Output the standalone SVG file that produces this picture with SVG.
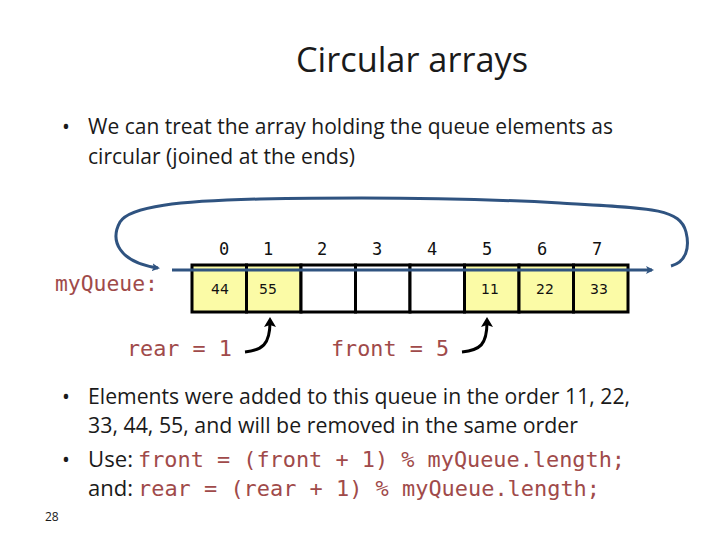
<svg xmlns="http://www.w3.org/2000/svg" width="720" height="540" viewBox="0 0 720 540">
<style>
.t{font-family:"Open Sans","Liberation Sans",sans-serif;fill:#1a1a1a}
.c{font-family:"DejaVu Sans Mono","Liberation Mono",monospace;fill:#a04a4a}
.idx{font-family:"DejaVu Sans Mono","Liberation Mono",monospace;font-size:17px;fill:#111;text-anchor:middle}
.v{font-family:"DejaVu Sans","Verdana",sans-serif;font-size:14px;fill:#111;text-anchor:middle}
.cell{stroke:#000;stroke-width:3;fill:#fff}
.full{fill:#fbfba6}
.blue{fill:none;stroke:#2f5380;stroke-width:3}
.blk{fill:none;stroke:#000;stroke-width:3}
</style>
<defs>
<marker id="ab" markerWidth="8" markerHeight="8" refX="6" refY="4" orient="auto" markerUnits="userSpaceOnUse" viewBox="0 0 8 8"><path d="M0,0 L8,4 L0,8 L2,4 Z" fill="#2f5380"/></marker>
<marker id="ak" markerWidth="10" markerHeight="12" refX="5" refY="6" orient="auto" markerUnits="userSpaceOnUse" viewBox="0 0 10 12"><path d="M0,0 L10,6 L0,12 L2,6 Z" fill="#000"/></marker>
</defs>
<rect width="720" height="540" fill="#fff"/>
<text class="t" x="412" y="72" font-size="34" text-anchor="middle" textLength="232" lengthAdjust="spacingAndGlyphs">Circular arrays</text>
<g id="bullet1">
<text class="t" x="62" y="134" font-size="21">•</text>
<text class="t" x="88" y="134" font-size="21" textLength="525" lengthAdjust="spacingAndGlyphs">We can treat the array holding the queue elements as</text>
<text class="t" x="88" y="164" font-size="21" textLength="267" lengthAdjust="spacingAndGlyphs">circular (joined at the ends)</text>
</g>
<g id="array">
<rect class="cell full" x="192" y="265" width="54.5" height="47"/>
<rect class="cell full" x="246.5" y="265" width="54.5" height="47"/>
<rect class="cell" x="301" y="265" width="54.5" height="47"/>
<rect class="cell" x="355.5" y="265" width="54.5" height="47"/>
<rect class="cell" x="410" y="265" width="54.5" height="47"/>
<rect class="cell full" x="464.5" y="265" width="54.5" height="47"/>
<rect class="cell full" x="519" y="265" width="54.5" height="47"/>
<rect class="cell full" x="573.5" y="265" width="54.5" height="47"/>
<text class="v" x="220" y="294">44</text>
<text class="v" x="268" y="294">55</text>
<text class="v" x="490" y="294">11</text>
<text class="v" x="545" y="294">22</text>
<text class="v" x="599" y="294">33</text>
</g>
<g id="indices">
<text class="idx" x="224" y="255">0</text>
<text class="idx" x="268" y="255">1</text>
<text class="idx" x="322" y="255">2</text>
<text class="idx" x="377" y="255">3</text>
<text class="idx" x="432" y="255">4</text>
<text class="idx" x="487" y="255">5</text>
<text class="idx" x="542" y="255">6</text>
<text class="idx" x="597" y="255">7</text>
</g>
<g id="labels">
<text class="c" x="55" y="291" font-size="21.5" textLength="103" lengthAdjust="spacingAndGlyphs">myQueue:</text>
<text class="c" x="127" y="356" font-size="21.5" textLength="105" lengthAdjust="spacingAndGlyphs">rear = 1</text>
<text class="c" x="331" y="356" font-size="21.5" textLength="118" lengthAdjust="spacingAndGlyphs">front = 5</text>
</g>
<g id="connectors">
<line class="blue" x1="172" y1="270" x2="652" y2="270" marker-end="url(#ab)"/>
<path class="blue" d="M671,266 C686,262 690,248 686,232 C680,208 650,208 560,203 C470,198 360,197 260,199 C180,201 130,206 120,222 C110,240 118,262 158,268" marker-end="url(#ab)"/>
<path class="blk" d="M245,352 C262,350 270,345 270,322" marker-end="url(#ak)"/>
<path class="blk" d="M462,352 C480,350 487,345 487,322" marker-end="url(#ak)"/>
</g>
<g id="bullet2">
<text class="t" x="62" y="404" font-size="21">•</text>
<text class="t" x="88" y="404" font-size="21" textLength="542" lengthAdjust="spacingAndGlyphs">Elements were added to this queue in the order 11, 22,</text>
<text class="t" x="88" y="433" font-size="21" textLength="490" lengthAdjust="spacingAndGlyphs">33, 44, 55, and will be removed in the same order</text>
</g>
<g id="bullet3">
<text class="t" x="62" y="467" font-size="21">•</text>
<text class="t" x="88" y="467" font-size="21" textLength="45" lengthAdjust="spacingAndGlyphs">Use:</text>
<text class="c" x="138" y="467" font-size="22" textLength="487" lengthAdjust="spacingAndGlyphs">front = (front + 1) % myQueue.length;</text>
<text class="t" x="88" y="496" font-size="21" textLength="45" lengthAdjust="spacingAndGlyphs">and:</text>
<text class="c" x="138" y="496" font-size="22" textLength="462" lengthAdjust="spacingAndGlyphs">rear = (rear + 1) % myQueue.length;</text>
</g>
<text class="t" x="45" y="521" font-size="12" fill="#444">28</text>
</svg>
